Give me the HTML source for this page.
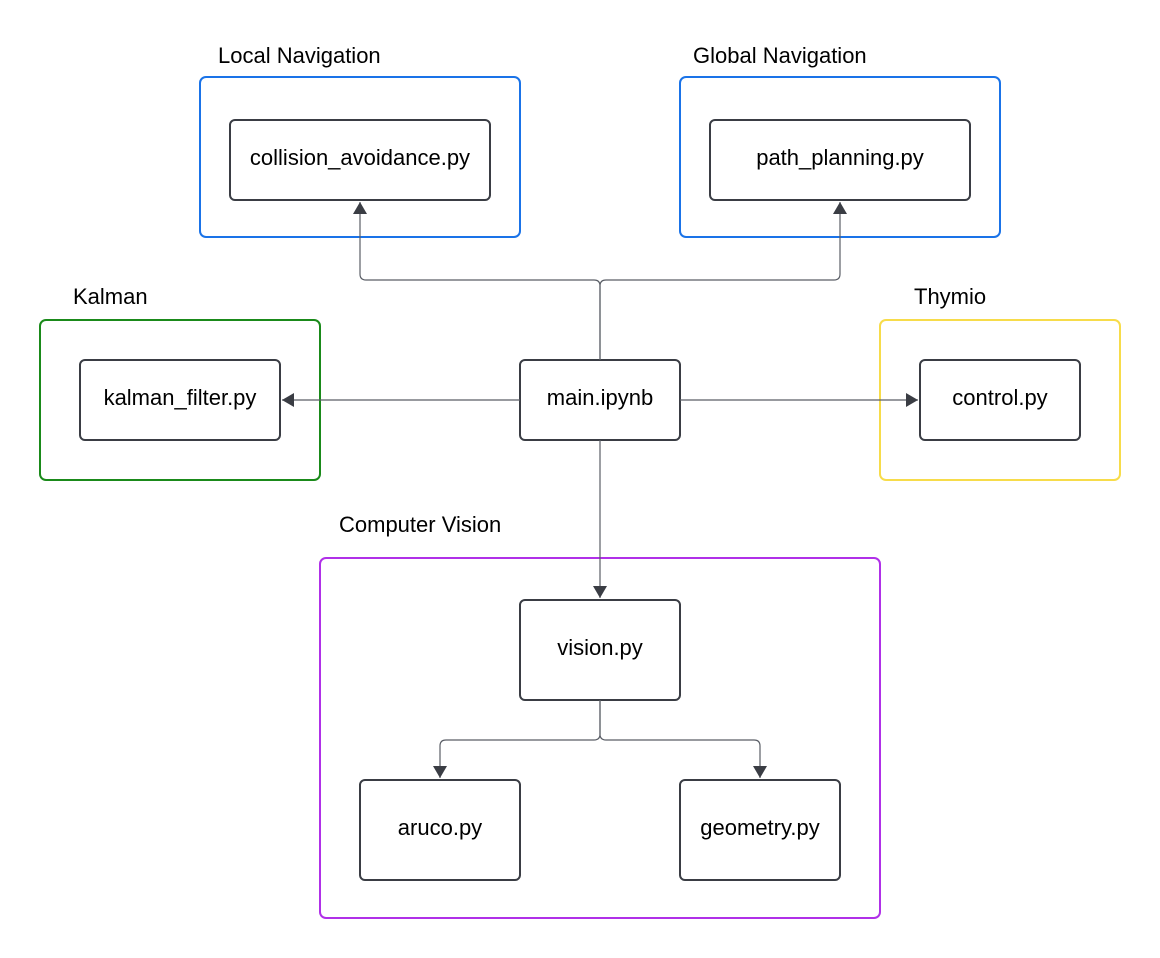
<!DOCTYPE html>
<html><head><style>body{margin:0;background:#fff}svg{display:block}text{font-family:"Liberation Sans",sans-serif;fill:#000}</style></head>
<body>
<svg width="1160" height="958" viewBox="0 0 1160 958">
<defs>
<marker id="b" markerWidth="12" markerHeight="14" refX="12" refY="7" orient="auto" markerUnits="userSpaceOnUse"><path d="M0,0 L12,7 L0,14 z" fill="#3a3d44"/></marker></defs>
<g fill="none" stroke-width="2">
<rect x="200" y="77" width="320" height="160" rx="6" stroke="#1a73e8"/>
<rect x="680" y="77" width="320" height="160" rx="6" stroke="#1a73e8"/>
<rect x="40" y="320" width="280" height="160" rx="6" stroke="#1a8a1a"/>
<rect x="880" y="320" width="240" height="160" rx="6" stroke="#f7dc4a"/>
<rect x="320" y="558" width="560" height="360" rx="6" stroke="#b030e8"/>
</g>
<g fill="#fff" stroke="#3a3d44" stroke-width="2">
<rect x="230" y="120" width="260" height="80" rx="5"/>
<rect x="710" y="120" width="260" height="80" rx="5"/>
<rect x="80" y="360" width="200" height="80" rx="5"/>
<rect x="920" y="360" width="160" height="80" rx="5"/>
<rect x="520" y="360" width="160" height="80" rx="5"/>
<rect x="520" y="600" width="160" height="100" rx="5"/>
<rect x="360" y="780" width="160" height="100" rx="5"/>
<rect x="680" y="780" width="160" height="100" rx="5"/>
</g>
<g fill="none" stroke="#5a5e66" stroke-width="1.2">
<path d="M600,360 V286 Q600,280 594,280 H366 Q360,280 360,274 V202" marker-end="url(#b)"/>
<path d="M600,360 V286 Q600,280 606,280 H834 Q840,280 840,274 V202" marker-end="url(#b)"/>
<path d="M520,400 H282" marker-end="url(#b)"/>
<path d="M680,400 H918" marker-end="url(#b)"/>
<path d="M600,440 V598" marker-end="url(#b)"/>
<path d="M600,700 V734 Q600,740 594,740 H446 Q440,740 440,746 V778" marker-end="url(#b)"/>
<path d="M600,700 V734 Q600,740 606,740 H754 Q760,740 760,746 V778" marker-end="url(#b)"/>
</g>
<g font-size="22">
<text x="218" y="63">Local Navigation</text>
<text x="693" y="63">Global Navigation</text>
<text x="73" y="304">Kalman</text>
<text x="914" y="304">Thymio</text>
<text x="339" y="532">Computer Vision</text>
</g>
<g font-size="22" text-anchor="middle">
<text x="360" y="165">collision_avoidance.py</text>
<text x="840" y="165">path_planning.py</text>
<text x="180" y="405">kalman_filter.py</text>
<text x="1000" y="405">control.py</text>
<text x="600" y="405">main.ipynb</text>
<text x="600" y="655">vision.py</text>
<text x="440" y="835">aruco.py</text>
<text x="760" y="835">geometry.py</text>
</g>
</svg>
</body></html>
